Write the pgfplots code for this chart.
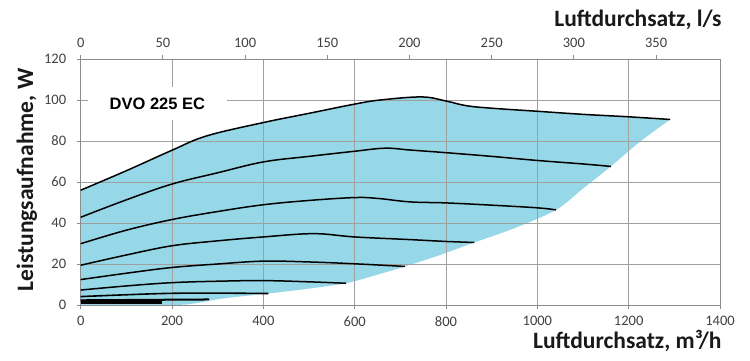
\documentclass[border=0pt]{standalone}
\usepackage{fontspec}
\setmainfont{Carlito}
\newfontfamily\arialf{Liberation Sans}
\usepackage{pgfplots}
\pgfplotsset{compat=1.18}
\usepgfplotslibrary{fillbetween}
\definecolor{fillblue}{RGB}{150,215,232}
\definecolor{gridgray}{RGB}{160,160,160}
\definecolor{axgray}{RGB}{140,140,140}
\definecolor{ticktext}{RGB}{64,64,64}
\begin{document}
\begin{tikzpicture}
\pgfplotsset{
  common/.style={
    scale only axis, width=639.3bp, height=246bp,
    ymin=0, ymax=120,
    tick align=outside, major tick length=4bp,
    tick style={axgray, line width=0.8bp},
    axis line style={axgray, line width=0.8bp},
    tick label style={font=\fontsize{14.5bp}{17bp}\selectfont, text=ticktext},
    /pgf/number format/assume math mode=true,
    /pgf/number format/1000 sep={},
    label style={font=\bfseries\fontsize{23.5bp}{28bp}\selectfont, text=black!90},
  }
}
\begin{axis}[common,
  set layers,
  fill between/on layer=axis background,
  xmin=0, xmax=1400,
  xtick={0,200,...,1400}, ytick={0,20,...,120},
  xtick pos=bottom, ytick pos=left,
  xticklabel style={yshift=-4bp},
  yticklabel style={xshift=-7bp},
  grid=major, major grid style={gridgray, line width=0.8bp},
  xlabel={Luftdurchsatz, m³/h},
  xlabel style={at={(axis description cs:1.0078,-0.1765)}, anchor=base east},
  ylabel={Leistungsaufnahme, W},
  ylabel style={at={(axis description cs:-0.0746,0.508)}, anchor=base},
]
% fill region
\addplot[name path=upper, draw=none, smooth, tension=0.6, forget plot] coordinates {
 (0,56) (100,65.5) (200,75.5) (276,82.5) (400,89) (500,93.5) (600,98) (656,100)
 (747,101.5) (800,99.5) (845,97.2) (900,96) (1000,94.5) (1100,93) (1200,91.8) (1291,90.5)};
\addplot[name path=lower, draw=none, smooth, tension=0.5, forget plot] coordinates {
 (0,0) (200,0) (250,0.8) (312,3.2) (411,5.6) (500,8) (581,10.6) (650,14.8) (710,18.8)
 (787,24.4) (862,30.5) (948,37.3) (1041,46.4) (1101,57) (1161,67.6) (1225,79.7) (1291,90.5)};
\addplot[fillblue, forget plot] fill between[of=upper and lower];
% curves
\addplot[black, line width=1.5bp, smooth, tension=0.6] coordinates {
 (0,56) (100,65.5) (200,75.5) (276,82.5) (400,89) (500,93.5) (600,98) (656,100)
 (747,101.5) (800,99.5) (845,97.2) (900,96) (1000,94.5) (1100,93) (1200,91.8) (1291,90.5)};
\addplot[black, line width=1.5bp, smooth, tension=0.6] coordinates {
 (0,42.8) (100,51.3) (200,59) (300,64.5) (400,69.8) (500,72.5) (600,75) (667,76.5)
 (721,75.6) (800,74.3) (900,72.5) (1000,70.5) (1100,68.8) (1161,67.6)};
\addplot[black, line width=1.5bp, smooth, tension=0.6] coordinates {
 (0,29.9) (100,36.5) (200,41.7) (300,45.6) (400,48.9) (500,51) (600,52.4) (650,52)
 (721,50.3) (800,49.8) (900,48.7) (1000,47.4) (1041,46.4)};
\addplot[black, line width=1.5bp, smooth, tension=0.6] coordinates {
 (0,19.4) (100,24.4) (200,28.9) (300,31.3) (400,33.2) (510,34.8) (600,33.2)
 (721,31.9) (800,31) (862,30.5)};
\addplot[black, line width=1.5bp, smooth, tension=0.6] coordinates {
 (0,12.4) (100,15.5) (200,18.3) (300,20) (400,21.4) (500,21) (600,20.1) (710,18.8)};
\addplot[black, line width=1.5bp, smooth, tension=0.6] coordinates {
 (0,7.3) (100,9.3) (200,10.9) (300,11.6) (400,11.9) (500,11.3) (581,10.6)};
\addplot[black, line width=1.6bp, smooth, tension=0.6] coordinates {
 (0,4.1) (100,5) (200,5.7) (300,5.8) (411,5.6)};
\addplot[black, line width=2bp] coordinates {(0,2.3) (281,2.7)};
\addplot[black, line width=3bp] coordinates {(0,1.3) (177,1.3)};
\node[fill=white, minimum width=139bp, minimum height=33bp, inner sep=0pt,
  font=\arialf\bfseries\fontsize{16.5bp}{19bp}\selectfont]
  at (axis cs:168,98.2) {DVO 225 EC};
\end{axis}
\begin{axis}[common,
  xmin=0, xmax=388.889,
  axis x line*=top, axis y line=none,
  xtick={0,50,...,350}, ytick=\empty,
  xticklabel style={yshift=4bp},
  xlabel={Luftdurchsatz, l/s},
  xlabel style={at={(axis description cs:1.0078,1.1313)}, anchor=base east},
]
\end{axis}
\pgfresetboundingbox
\path[use as bounding box] (-80.7bp,-56bp) rectangle (669.3bp,305bp);
\end{tikzpicture}
\end{document}
